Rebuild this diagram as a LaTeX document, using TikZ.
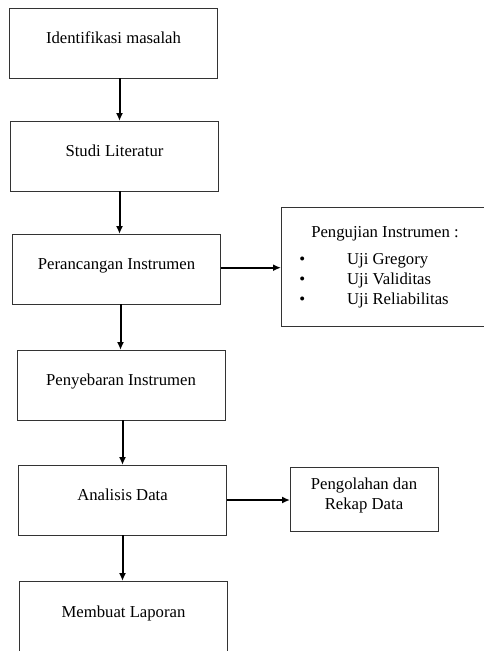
\documentclass[tikz,border=0pt]{standalone}
\usepackage{fontspec}
\setmainfont{Liberation Serif}
\usetikzlibrary{arrows.meta,positioning,calc}

\begin{document}
\begin{tikzpicture}[
    x=1pt, y=-1pt,
    node distance=43pt,
    block/.style={rectangle, draw=black!80, line width=1pt, outer sep=0pt, minimum height=70pt, minimum width=208pt, text height=12pt, text depth=12pt, inner sep=2pt, align=center, font=\fontsize{16.7}{20}\selectfont},
    sidebox/.style={rectangle, draw=black!80, line width=1pt, outer sep=0pt, minimum height=64pt, minimum width=148pt, text height=31.5pt, text depth=10pt, inner sep=2pt, align=center, font=\fontsize{16.7}{20}\selectfont},
    arrow/.style={-{Latex[length=8pt,width=7pt]}, line width=2pt}
]
\useasboundingbox (0,0) rectangle (483,651);
\node[block] (idm) at (113.5,43) {Identifikasi masalah};
\node[block, below=of idm, xshift=1pt] (stl) {Studi Literatur};
\node[block, below=of stl, xshift=2pt] (pri) {Perancangan Instrumen};
\node[block, below=46pt of pri, xshift=4.5pt] (pyi) {Penyebaran Instrumen};
\node[block, below=45pt of pyi, xshift=1.5pt] (adt) {Analisis Data};
\node[block, below=46pt of adt, xshift=1pt, minimum height=72pt] (mlp) {Membuat Laporan};
% kotak samping
\node[block, minimum height=119pt] (uji) at (385,266.5) {};
\node[font=\fontsize{16.7}{20}\selectfont, inner sep=0pt] (ujiisi) at ([xshift=-6pt]uji.center) {%
    \begin{tabular}{@{}l@{\hspace{42pt}}l@{}}
    \multicolumn{2}{@{\hspace{12pt}}l@{}}{Pengujian Instrumen :}\\[7pt]
    \textbullet & Uji Gregory\\
    \textbullet & Uji Validitas\\
    \textbullet & Uji Reliabilitas
    \end{tabular}};
\node[sidebox] (olh) at (364,499) {Pengolahan dan\\Rekap Data};
\draw[arrow] ([xshift=6pt]idm.south) -- ([xshift=6pt]idm.south |- stl.north);
\draw[arrow] ([xshift=5pt]stl.south) -- ([xshift=5pt]stl.south |- pri.north);
\draw[arrow] ([xshift=4pt]pri.south) -- ([xshift=4pt]pri.south |- pyi.north);
\draw[arrow] ([xshift=1.5pt]pyi.south) -- ([xshift=1.5pt]pyi.south |- adt.north);
\draw[arrow] (adt.south) -- (adt.south |- mlp.north);
\draw[arrow] ([yshift=1.3pt]pri.east) -- ([yshift=1.3pt]pri.east -| uji.west);
\draw[arrow] (adt.east) -- (adt.east -| olh.west);
\end{tikzpicture}
\end{document}
